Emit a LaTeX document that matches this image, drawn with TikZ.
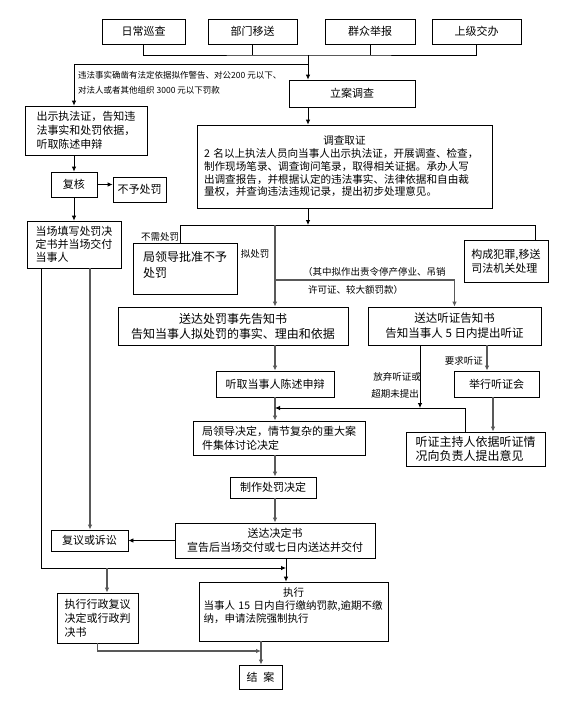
\documentclass[tikz,border=0pt]{standalone}
\usepackage{fontspec}
\setmainfont{Noto Sans CJK SC}
\usetikzlibrary{arrows.meta,calc}
\begin{document}
\begin{tikzpicture}[x=1pt,y=-1pt,
  box/.style={draw, line width=0.8pt, inner sep=0pt, font=\fontsize{11}{14}\selectfont},
  ln/.style={line width=0.8pt},
  gl/.style={line width=1.1pt, draw=black!65},
  arr/.style={-{Latex[length=5pt,width=4.5pt]}},
  lab/.style={inner sep=0pt, font=\fontsize{9.5}{11}\selectfont}]
\useasboundingbox (0,0) rectangle (573,716);
% boxes
\node[box, minimum width=83, minimum height=25] (d1) at (143.5,31.5) {日常巡查};
\node[box, minimum width=89, minimum height=25] (d2) at (252.5,31.5) {部门移送};
\node[box, minimum width=90, minimum height=25] (d3) at (370,31.5) {群众举报};
\node[box, minimum width=89, minimum height=25] (d4) at (476.5,31.5) {上级交办};
\node[box, minimum width=126, minimum height=27] (la) at (352,93.5) {立案调查};
\node[box, minimum width=295, minimum height=83, text width=281, align=left, font=\fontsize{10.6}{12.8}\selectfont] (dc) at (344.5,166.5) {\makebox[281pt]{调查取证}\\2 名以上执法人员向当事人出示执法证，开展调查、检查，\\制作现场笔录、调查询问笔录，取得相关证据。承办人写\\出调查报告，并根据认定的违法事实、法律依据和自由裁\\量权，并查询违法违规记录，提出初步处理意见。};
\node[box, minimum width=122, minimum height=49, align=left] (cs) at (86,130.5) {出示执法证，告知违\\法事实和处罚依据，\\听取陈述申辩};
\node[box, minimum width=46, minimum height=25] (fh) at (74,184.5) {复核};
\node[box, minimum width=53, minimum height=25] (by) at (139.5,189.5) {不予处罚};
\node[box, minimum width=94, minimum height=47, align=left, font=\fontsize{11}{13}\selectfont] (dctx) at (74,244.5) {当场填写处罚决\\定书并当场交付\\当事人};
\node[box, minimum width=104, minimum height=51, align=left, font=\fontsize{12}{16}\selectfont] (bx) at (185,268.5) {局领导批准不予\\处罚\\[-7pt]\mbox{}};
\node[box, minimum width=84, minimum height=42, align=left] (fz) at (506,261) {构成犯罪,移送\\司法机关处理};
\node[box, minimum width=230, minimum height=38, align=center, font=\fontsize{12}{15}\selectfont] (gz) at (233,326) {送达处罚事先告知书\\告知当事人拟处罚的事实、理由和依据};
\node[box, minimum width=173, minimum height=38, align=center, font=\fontsize{11.5}{15}\selectfont] (tz) at (454.5,326) {送达听证告知书\\告知当事人 5 日内提出听证};
\node[box, minimum width=118, minimum height=26] (tq) at (275,384) {听取当事人陈述申辩};
\node[box, minimum width=85, minimum height=26] (jx) at (496.5,384) {举行听证会};
\node[box, minimum width=172, minimum height=34, align=left] (jd) at (279,438) {局领导决定，情节复杂的重大案\\件集体讨论决定};
\node[box, minimum width=139, minimum height=34, align=left, font=\fontsize{12}{14}\selectfont] (zc) at (475.5,449) {听证主持人依据听证情\\况向负责人提出意见};
\node[box, minimum width=86, minimum height=21] (zz) at (273,487.5) {制作处罚决定};
\node[box, minimum width=200, minimum height=35, align=center] (sd) at (275,540.5) {送达决定书\\宣告后当场交付或七日内送达并交付};
\node[box, minimum width=77, minimum height=21] (fy) at (89.5,540.5) {复议或诉讼};
\node[box, minimum width=189, minimum height=59, text width=180, align=left, font=\fontsize{10.5}{13}\selectfont] (zx) at (293.5,611.5) {\makebox[180pt]{执行}\\当事人 15 日内自行缴纳罚款,逾期不缴\\纳，申请法院强制执行\\\mbox{}};
\node[box, minimum width=81, minimum height=50, align=left] (zxf) at (97.5,618) {执行行政复议\\决定或行政判\\决书};
\node[box, minimum width=43, minimum height=24] (ja) at (260.5,677) {结\hspace{6pt}案};
% labels
\node[lab, anchor=west, font=\fontsize{8.5}{10}\selectfont] (n1) at (78,75) {违法事实确凿有法定依据拟作警告、对公200 元以下、};
\node[lab, anchor=west, font=\fontsize{8.5}{10}\selectfont] (n2) at (78,90) {对法人或者其他组织 3000 元以下罚款};
\node[lab] (n3) at (160,237) {不需处罚};
\node[lab] (n4) at (255,254) {拟处罚};
\node[lab, anchor=west] (n5) at (303,272) {（其中拟作出责令停产停业、吊销};
\node[lab, anchor=west] (n6) at (308,290) {许可证、较大额罚款）};
\node[lab, anchor=east] (n7) at (421,377) {放弃听证或};
\node[lab, anchor=east] (n8) at (419,394) {超期未提出};
\node[lab, anchor=east] (n9) at (483,361) {要求听证};
% connectors
\coordinate (top) at (308,55);
\draw[ln] (d1.south) |- (top) -| (d4.south);
\draw[ln] (d2.south) -- (d2.south |- top);
\draw[ln] (d3.south) -- (d3.south |- top);
\draw[ln,arr] (top) -- (top |- la.north);
\coordinate (lf) at (308,64);
\draw[ln,arr] (lf) -| (fh.north |- cs.north);
\draw[ln,arr] (la.south -| top) -- (dc.north -| top);
\draw[ln,arr] (cs.south -| fh.north) -- (fh.north);
\draw[ln,arr] (fh.east) -- (fh.east -| by.west);
\draw[ln,arr] (fh.south) -- (dctx.north);
\coordinate (sp) at (308,225);
\draw[ln,arr] (dc.south -| sp) -- (sp);
\coordinate (sl) at (180,225);
\coordinate (sr) at (535,225);
\draw[ln] (sl |- bx.north) -- (sl) -- (sr) -- (sr |- fz.north);
\coordinate (np) at (275,225);
\draw[gl,arr] (np) -- (np |- gz.north);
\coordinate (br) at (275,280);
\draw[gl,arr] (br) -| (tz.north);
\draw[gl,arr] (gz.south -| np) -- (tq.north);
\draw[gl,arr] (tq.south) -- (tq.south |- jd.north);
\coordinate (fb) at (465,408);
\draw[ln,arr] (zc.north -| fb) -- (fb) -- (tq.south |- fb);
\coordinate (fq) at (420,408);
\draw[ln,arr] (tz.south -| fq) -- (fq);
\coordinate (xq) at (487,0);
\draw[gl,arr] (tz.south -| xq) -- (jx.north -| xq);
\coordinate (xh) at (493,0);
\draw[gl,arr] (jx.south -| xh) -- (zc.north -| xh);
\draw[gl,arr] (jd.south -| tq) -- (zz.north -| tq);
\draw[gl,arr] (zz.south -| tq) -- (sd.north -| tq);
\draw[ln,arr] (sd.west) -- (fy.east);
\coordinate (xa) at (90,0);
\draw[gl,arr] (dctx.south -| xa) -- (fy.north -| xa);
\coordinate (bl) at (41,568);
\coordinate (bm) at (286,568);
\draw[ln,arr] (dctx.south -| bl) -- (bl) -- (bm);
\draw[ln,arr] (sd.south -| bm) -- (zx.north -| bm);
\coordinate (bk) at (107,568);
\draw[gl,arr] (bk) -- (zxf.north -| bk);
\coordinate (ej) at (261,651);
\draw[gl,arr] (zxf.south) |- (ej);
\draw[gl,arr] (zx.south -| ej) -- (ja.north -| ej);
\end{tikzpicture}
\end{document}
